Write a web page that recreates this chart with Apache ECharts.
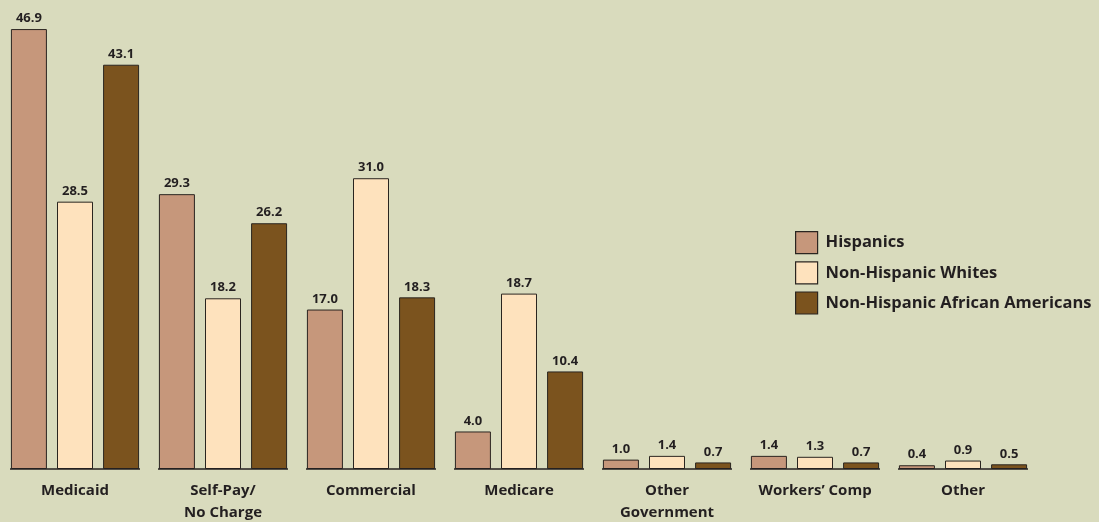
<!DOCTYPE html>
<html>
<head>
<meta charset="utf-8">
<script src="https://cdn.jsdelivr.net/npm/echarts@6/dist/echarts.min.js"></script>
<style>
  html, body { margin: 0; padding: 0; background: #d9dbbd; }
  #chart { width: 1099px; height: 522px; }
</style>
</head>
<body>
<div id="chart"></div>
<script>
const categories = ['Medicaid', 'Self-Pay/\nNo Charge', 'Commercial', 'Medicare', 'Other\nGovernment', 'Workers\u2019 Comp', 'Other']
const hispanics = [46.9, 29.3, 17.0, 4.0, 1.0, 1.4, 0.4]
const whites = [28.5, 18.2, 31.0, 18.7, 1.4, 1.3, 0.9]
const africanAmericans = [43.1, 26.2, 18.3, 10.4, 0.7, 0.7, 0.5]

const font = '"Open Sans", "Noto Sans", sans-serif'
const chart = echarts.init(document.getElementById('chart'))

const barLabel = {
  show: true,
  position: 'top',
  distance: 4,
  formatter: p => p.value.toFixed(1),
  color: '#231f20',
  fontFamily: font,
  fontWeight: 'bold',
  fontSize: 13
}

const makeBar = (name, data, color) => ({
  name: name,
  type: 'bar',
  data: data,
  barWidth: 36,
  barGap: '28%',
  itemStyle: { color: color, borderColor: '#2a2520', borderWidth: 1 },
  label: barLabel
})

const option = {
  backgroundColor: '#d9dbbd',
  animation: false,
  grid: { left: 1, right: 62, top: 0, bottom: 53, containLabel: false, outerBoundsMode: 'none' },
  legend: {
    orient: 'vertical',
    left: 795,
    top: 231,
    padding: 0,
    itemWidth: 22,
    itemHeight: 22,
    itemGap: 7,
    icon: 'rect',
    itemStyle: { borderColor: '#2a2520', borderWidth: 1.2 },
    textStyle: { color: '#231f20', fontFamily: font, fontWeight: 'bold', fontSize: 16.5, padding: [0, 0, 0, 3] },
    data: ['Hispanics', 'Non-Hispanic Whites', 'Non-Hispanic African Americans']
  },
  xAxis: {
    type: 'category',
    data: categories,
    axisLine: { show: false },
    axisTick: { show: false },
    axisLabel: {
      interval: 0,
      margin: 11,
      color: '#231f20',
      fontFamily: font,
      fontWeight: 'bold',
      fontSize: 15,
      lineHeight: 22
    }
  },
  yAxis: {
    type: 'value',
    min: 0,
    max: 50,
    show: false
  },
  series: [
    makeBar('Hispanics', hispanics, '#c6977b'),
    makeBar('Non-Hispanic Whites', whites, '#fee2bd'),
    makeBar('Non-Hispanic African Americans', africanAmericans, '#7b531e'),
    {
      // baseline segment under each group
      type: 'custom',
      silent: true,
      data: categories.map((c, i) => [i, 0]),
      renderItem: (params, api) => {
        const p = api.coord([api.value(0), 0])
        const band = api.size([1, 0])[0]
        const half = band / 2 - 9
        return {
          type: 'line',
          shape: { x1: p[0] - half, y1: p[1], x2: p[0] + half, y2: p[1] },
          style: { stroke: '#231f20', lineWidth: 1.5 }
        }
      },
      z: 5
    }
  ]
}

chart.setOption(option)
</script>
</body>
</html>
